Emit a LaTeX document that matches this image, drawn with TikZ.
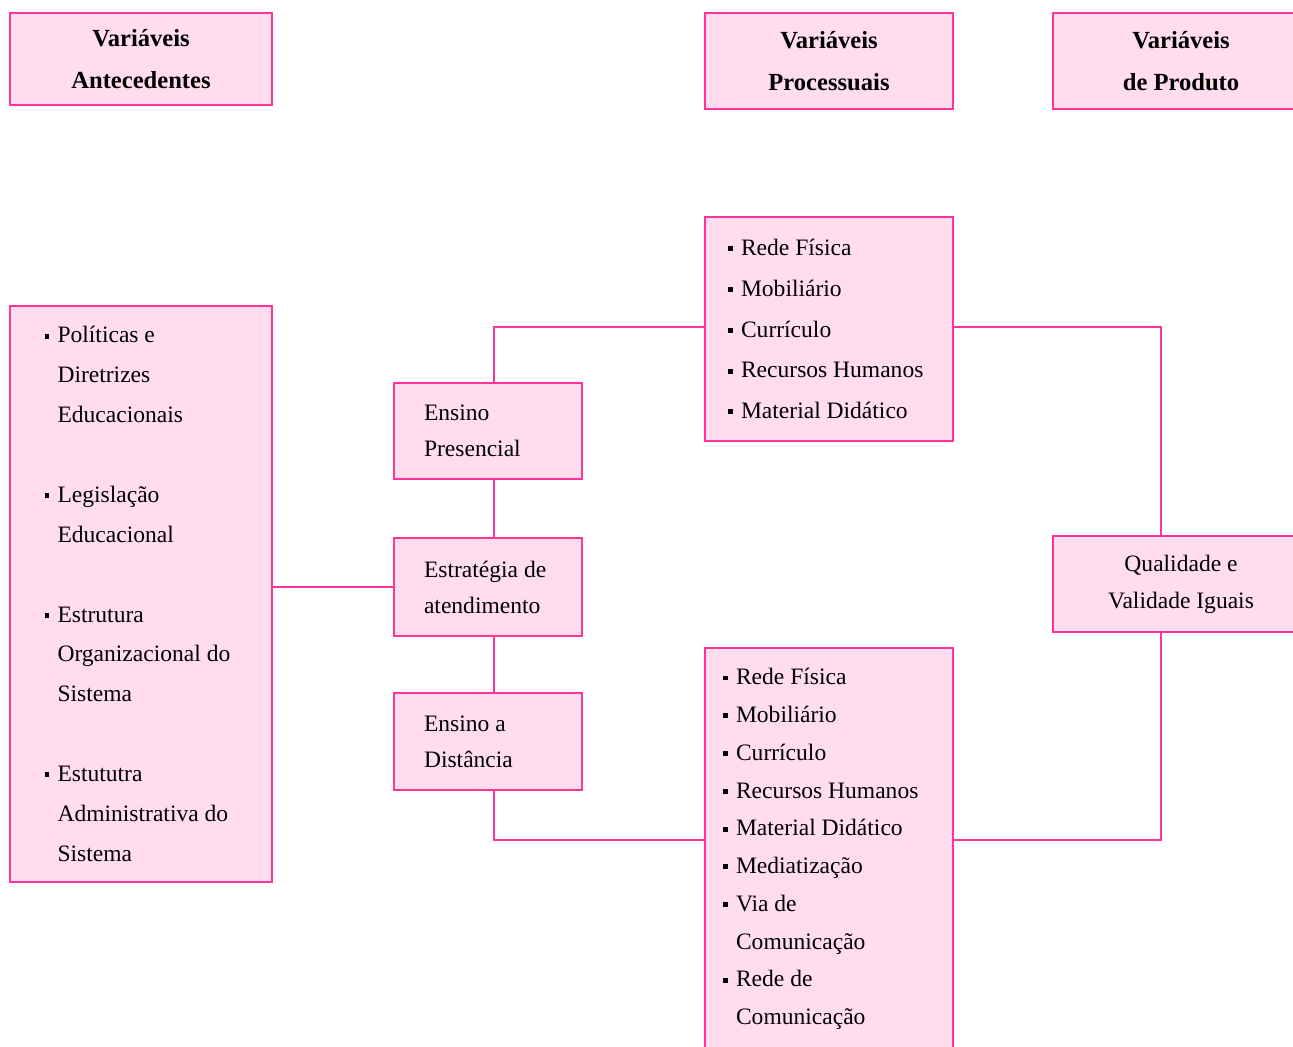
\documentclass[tikz,border=0pt]{standalone}
\usepackage{fontspec}
\setmainfont{Liberation Serif}
\definecolor{rosa}{HTML}{FF3399}
\definecolor{rosaclaro}{HTML}{FFDDEE}
\newcommand{\bul}{\makebox[0.26cm][l]{\rule[0.18em]{0.21em}{0.21em}}}
\newcommand{\ind}{\hspace*{0.26cm}}

\begin{document}
\begin{tikzpicture}[x=0.02cm,y=-0.02cm,
  every node/.style={font=\fontsize{13.4}{22.7}\selectfont},
  box/.style={draw=rosa,fill=rosaclaro,line width=1.1pt,inner ysep=0pt},
  head/.style={box,font=\fontsize{14}{23.8}\selectfont\bfseries,align=flush center,
    inner xsep=0pt,minimum height=1.92cm},
  lst/.style={box,align=flush left},
  conn/.style={rosa,line width=1.1pt}]
  \useasboundingbox (0,0) rectangle (1293,1046);
  % cabecalhos
  \node [head,text width=5.24cm,minimum height=1.84cm] (hant) at (141,59) {Variáveis\\Antecedentes};
  \node [head,text width=4.96cm] (hproc) at (829,61) {Variáveis\\Processuais};
  \node [head,text width=5.12cm] (hprod) at (1181,61) {Variáveis\\de Produto};
  % caixas
  \node [lst,text width=3.86cm,inner xsep=0.69cm,minimum height=11.52cm] (ante) at (141,594)
    {\bul Políticas e\\ \ind Diretrizes\\ \ind Educacionais\\[22.7pt]
     \bul Legislação\\ \ind Educacional\\[22.7pt]
     \bul Estrutura\\ \ind Organizacional do\\ \ind Sistema\\[22.7pt]
     \bul Estututra\\ \ind Administrativa do\\ \ind Sistema};
  \node [lst,text width=2.56cm,inner xsep=0.6cm,minimum height=1.92cm,
    font=\fontsize{13.4}{20.4}\selectfont] (pres) at (488,431) {Ensino\\Presencial};
  \node [lst,text width=2.56cm,inner xsep=0.6cm,minimum height=1.96cm,
    font=\fontsize{13.4}{20.4}\selectfont] (estr) at (488,587) {Estratégia de\\atendimento};
  \node [lst,text width=2.56cm,inner xsep=0.6cm,minimum height=1.94cm,
    font=\fontsize{13.4}{20.4}\selectfont] (dist) at (488,741.5) {Ensino a\\Distância};
  \node [lst,text width=4.04cm,inner xsep=0.46cm,minimum height=4.48cm,
    font=\fontsize{13.4}{23.2}\selectfont] (proc1) at (829,329)
    {\bul Rede Física\\ \bul Mobiliário\\ \bul Currículo\\ \bul Recursos Humanos\\ \bul Material Didático};
  \node [lst,text width=4.24cm,inner xsep=0.36cm,minimum height=8.04cm,
    font=\fontsize{13.4}{21.5}\selectfont] (proc2) at (829,849)
    {\bul Rede Física\\ \bul Mobiliário\\ \bul Currículo\\ \bul Recursos Humanos\\ \bul Material Didático\\
     \bul Mediatização\\ \bul Via de\\ \ind Comunicação\\ \bul Rede de\\ \ind Comunicação};
  \node [box,align=flush center,text width=5.12cm,inner xsep=0pt,minimum height=1.92cm,
    font=\fontsize{13.4}{21}\selectfont] (qual) at (1181,584) {Qualidade e\\Validade Iguais};
  % ligacoes
  \draw [conn] (estr.west) -- (estr.west -| ante.east);
  \draw [conn] ([xshift=0.12cm]estr.north) -- ([xshift=0.12cm]pres.south);
  \draw [conn] ([xshift=0.12cm]estr.south) -- ([xshift=0.12cm]dist.north);
  \draw [conn] ([xshift=0.12cm]pres.north) |- ([yshift=0.04cm]proc1.west);
  \draw [conn] ([xshift=0.12cm]dist.south) |- ([yshift=0.18cm]proc2.west);
  \draw [conn] ([yshift=0.04cm]proc1.east) -| ([xshift=-0.4cm]qual.north);
  \draw [conn] ([yshift=0.18cm]proc2.east) -| ([xshift=-0.4cm]qual.south);
\end{tikzpicture}
\end{document}
